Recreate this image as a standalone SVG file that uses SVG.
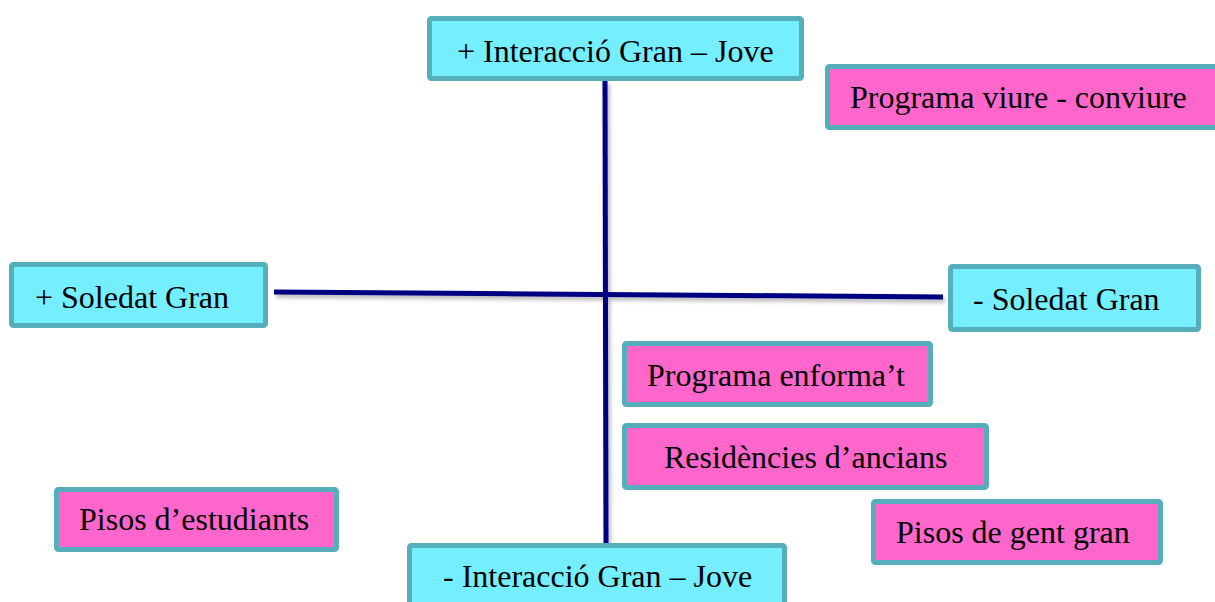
<svg xmlns="http://www.w3.org/2000/svg" width="1215" height="602" viewBox="0 0 1215 602">
<style>
.box{stroke:#55AEBA;stroke-width:5}
.cy{fill:#75EEFF}
.pk{fill:#FF66CC}
.t{font-family:"Liberation Serif","Times New Roman",serif;font-size:32px;fill:#000}
.ax{stroke:#000080;stroke-width:5;fill:none}
</style>
<defs>
<filter id="sh" x="-10%" y="-50%" width="120%" height="200%">
<feDropShadow dx="2" dy="3" stdDeviation="2" flood-color="#000" flood-opacity="0.3"/>
</filter>
</defs>
<rect width="1215" height="602" fill="#fff"/>
<g id="connectors" filter="url(#sh)">
<line class="ax" x1="605" y1="81" x2="606" y2="543"/>
<line class="ax" x1="274" y1="292" x2="943" y2="297"/>
</g>
<g id="n-top"><rect class="box cy" x="429.5" y="18.5" width="372" height="60" rx="2"/><text class="t" x="457" y="62">+ Interacció Gran – Jove</text></g>
<g id="n-viure"><rect class="box pk" x="827.5" y="66.5" width="400" height="61" rx="2"/><text class="t" x="850" y="108">Programa viure - conviure</text></g>
<g id="n-mes-soledat"><rect class="box cy" x="11.5" y="264.5" width="254" height="61" rx="2"/><text class="t" x="35" y="308">+ Soledat Gran</text></g>
<g id="n-menys-soledat"><rect class="box cy" x="950.5" y="266.5" width="248" height="63" rx="2"/><text class="t" x="973" y="310">- Soledat Gran</text></g>
<g id="n-enforma"><rect class="box pk" x="624.5" y="343.5" width="306" height="61" rx="2"/><text class="t" x="647" y="386">Programa enforma’t</text></g>
<g id="n-residencies"><rect class="box pk" x="624.5" y="425.5" width="362" height="62" rx="2"/><text class="t" x="664" y="468">Residències d’ancians</text></g>
<g id="n-estudiants"><rect class="box pk" x="56.5" y="489.5" width="280" height="60" rx="2"/><text class="t" x="79" y="530">Pisos d’estudiants</text></g>
<g id="n-gentgran"><rect class="box pk" x="873.5" y="501.5" width="287" height="61" rx="2"/><text class="t" x="896" y="543">Pisos de gent gran</text></g>
<g id="n-bottom"><rect class="box cy" x="409.5" y="545.5" width="375" height="70" rx="2"/><text class="t" x="443" y="587">- Interacció Gran – Jove</text></g>
</svg>
